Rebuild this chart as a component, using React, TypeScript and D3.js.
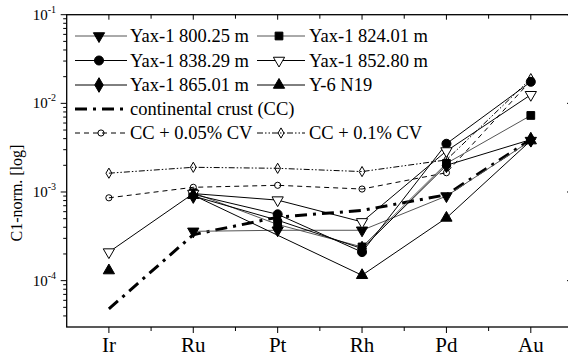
import React from "react";
import * as d3 from "d3";

// elements on the x axis
const elements = ["Ir", "Ru", "Pt", "Rh", "Pd", "Au"];

// CI-normalised values (null = not plotted)
const yax80025 = [null, 3.6e-4, 3.7e-4, 3.7e-4, 9.0e-4, 3.8e-3];
const yax82401 = [null, 9.8e-4, 4.3e-4, 2.4e-4, 2.1e-3, 7.3e-3];
const yax83829 = [null, 9.4e-4, 5.6e-4, 2.1e-4, 3.5e-3, 1.75e-2];
const yax85280 = [2.1e-4, 9.6e-4, 8.1e-4, 4.6e-4, 2.9e-3, 1.25e-2];
const yax86501 = [null, 9.0e-4, 4.8e-4, 2.3e-4, 2.0e-3, 3.9e-3];
const y6N19 = [1.3e-4, 9.2e-4, null, 1.15e-4, 5.1e-4, 3.8e-3];
const crust = [4.8e-5, 3.3e-4, 5.2e-4, 6.2e-4, 9.3e-4, 3.9e-3];
const cv005 = [8.6e-4, 1.13e-3, 1.19e-3, 1.08e-3, 1.65e-3, 1.8e-2];
const cv01 = [1.63e-3, 1.9e-3, 1.85e-3, 1.7e-3, 2.3e-3, 1.9e-2];

const yDecades = [-1, -2, -3, -4];

const W = 568;
const H = 358;
const left = 66.7;
const right = 573;
const top = 14.7;
const bottom = 327;
const serif = { fontFamily: "Liberation Serif, Times New Roman, Times, serif" };

type Series = {
  name: string;
  values: (number | null)[];
  marker: string;
  color: string;
  width: number;
  dash?: string;
  lineFrom?: number;
  small?: boolean;
};

const series: Series[] = [
  { name: "continental crust (CC)", values: crust, marker: "none", color: "#000", width: 3, dash: "12,6,3,6" },
  { name: "CC + 0.05% CV", values: cv005, marker: "ocircle", color: "#000", width: 1, dash: "5,4", small: true },
  { name: "CC + 0.1% CV", values: cv01, marker: "odiamond", color: "#000", width: 1, dash: "6,2,1.5,2,1.5,2", small: true },
  { name: "Yax-1 800.25 m", values: yax80025, marker: "tridown", color: "#555", width: 1 },
  { name: "Yax-1 824.01 m", values: yax82401, marker: "square", color: "#555", width: 1 },
  { name: "Yax-1 838.29 m", values: yax83829, marker: "circle", color: "#000", width: 1 },
  { name: "Yax-1 852.80 m", values: yax85280, marker: "otri", color: "#000", width: 1 },
  { name: "Yax-1 865.01 m", values: yax86501, marker: "diamond", color: "#000", width: 1 },
  { name: "Y-6 N19", values: y6N19, marker: "triup", color: "#000", width: 1, lineFrom: 1 },
];

function Marker({ kind, x, y }: { kind: string; x: number; y: number }) {
  if (kind === "none") return null;
  const open = kind.startsWith("o");
  let type: d3.SymbolType = d3.symbolCircle;
  let size = 64;
  let rot = 0;
  if (kind === "tridown") { type = d3.symbolTriangle; size = 55; rot = 180; }
  if (kind === "triup") { type = d3.symbolTriangle; size = 55; }
  if (kind === "otri") { type = d3.symbolTriangle; size = 55; rot = 180; }
  if (kind === "square") { type = d3.symbolSquare; size = 60; }
  if (kind === "diamond") { type = d3.symbolDiamond; size = 62; }
  if (kind === "ocircle") { type = d3.symbolCircle; size = 30; }
  if (kind === "odiamond") { type = d3.symbolDiamond; size = 30; }
  const path = d3.symbol().type(type).size(size)() || "";
  return (
    <path
      d={path}
      transform={`translate(${x},${y}) rotate(${rot})`}
      fill={open ? "#fff" : "#000"}
      fillOpacity={open && kind !== "otri" ? 0 : 1}
      stroke="#000"
      strokeWidth={1}
    />
  );
}

export default function App() {
  const x = d3.scaleLinear().domain([-0.5, elements.length - 0.5]).range([left, right]);
  const y = d3.scaleLog().domain([3e-5, 0.1]).range([bottom, top]);

  const line = d3
    .line<[number, number]>()
    .x((d) => x(d[0]))
    .y((d) => y(d[1]));

  const minorY: number[] = [];
  for (let e = -5; e < -1; e++) {
    for (let k = 2; k <= 9; k++) {
      const v = k * Math.pow(10, e);
      if (v > y.domain()[0] * 1.01 && v < 0.1) minorY.push(v);
    }
  }
  const minorX = elements.slice(0, -1).map((_, i) => i + 0.5);

  // legend layout
  const rowY = [36, 60.5, 85, 109, 133];
  const col1 = { x0: 75, x1: 127, tx: 130 };
  const col2 = { x0: 257, x1: 305, tx: 309 };
  const legendItems: { s: Series; row: number; col: typeof col1 }[] = [
    { s: series[3], row: 0, col: col1 },
    { s: series[4], row: 0, col: col2 },
    { s: series[5], row: 1, col: col1 },
    { s: series[6], row: 1, col: col2 },
    { s: series[7], row: 2, col: col1 },
    { s: series[8], row: 2, col: col2 },
    { s: series[0], row: 3, col: col1 },
    { s: series[1], row: 4, col: col1 },
    { s: series[2], row: 4, col: col2 },
  ];

  return (
    <svg width={W} height={H} style={{ display: "block", position: "absolute", left: 0, top: 0, background: "#fff" }}>
      <defs>
        <clipPath id="plot">
          <rect x={left} y={top} width={right - left} height={bottom - top} />
        </clipPath>
      </defs>

      {/* data */}
      <g clipPath="url(#plot)">
        {series.map((s) => {
          const pts = s.values
            .map((v, i) => [i, v] as [number, number | null])
            .filter((d) => d[1] !== null && d[0] >= (s.lineFrom ?? 0)) as [number, number][];
          return (
            <path
              key={s.name + "l"}
              d={line(pts) || ""}
              fill="none"
              stroke={s.color}
              strokeWidth={s.width}
              strokeDasharray={s.dash}
            />
          );
        })}
        {series.map((s) =>
          s.values.map((v, i) =>
            v === null ? null : <Marker key={s.name + i} kind={s.marker} x={x(i)} y={y(v)} />
          )
        )}
      </g>

      {/* frame */}
      <rect x={left} y={top} width={right - left} height={bottom - top} fill="none" stroke="#000" strokeWidth={1.3} />

      {/* x ticks */}
      {elements.map((el, i) => (
        <g key={el}>
          <line x1={x(i)} x2={x(i)} y1={bottom} y2={bottom + 6} stroke="#000" />
          <line x1={x(i)} x2={x(i)} y1={top} y2={top + 5} stroke="#000" />
          <text x={x(i)} y={352} textAnchor="middle" style={serif} fontSize={21}>
            {el}
          </text>
        </g>
      ))}
      {minorX.map((m) => (
        <g key={m}>
          <line x1={x(m)} x2={x(m)} y1={bottom} y2={bottom + 4} stroke="#000" />
          <line x1={x(m)} x2={x(m)} y1={top} y2={top + 4} stroke="#000" />
        </g>
      ))}

      {/* y ticks */}
      {yDecades.map((e) => {
        const yy = y(Math.pow(10, e));
        return (
          <g key={e}>
            <line x1={left - 6} x2={left} y1={yy} y2={yy} stroke="#000" />
            <line x1={right - 6} x2={right} y1={yy} y2={yy} stroke="#000" />
            <text x={56} y={yy + 5} textAnchor="end" style={serif} fontSize={15}>
              10
              <tspan dy={-7} fontSize={10}>
                {`-${-e}`}
              </tspan>
            </text>
          </g>
        );
      })}
      {minorY.map((v) => (
        <g key={v}>
          <line x1={left - 3.5} x2={left} y1={y(v)} y2={y(v)} stroke="#000" />
          <line x1={right - 3.5} x2={right} y1={y(v)} y2={y(v)} stroke="#000" />
        </g>
      ))}

      <text transform="translate(22,193) rotate(-90)" textAnchor="middle" style={serif} fontSize={16}>
        C1-norm. [log]
      </text>

      {/* legend */}
      {legendItems.map(({ s, row, col }) => {
        const yy = rowY[row];
        return (
          <g key={s.name + "lg"}>
            <line
              x1={col.x0}
              x2={col.x1}
              y1={yy}
              y2={yy}
              stroke={s.color}
              strokeWidth={s.width}
              strokeDasharray={s.dash}
            />
            <Marker kind={s.marker} x={(col.x0 + col.x1) / 2 + (s.small ? 0 : -2)} y={yy} />
            <text x={col.tx} y={yy + 6} style={serif} fontSize={18.5}>
              {s.name}
            </text>
          </g>
        );
      })}
    </svg>
  );
}
